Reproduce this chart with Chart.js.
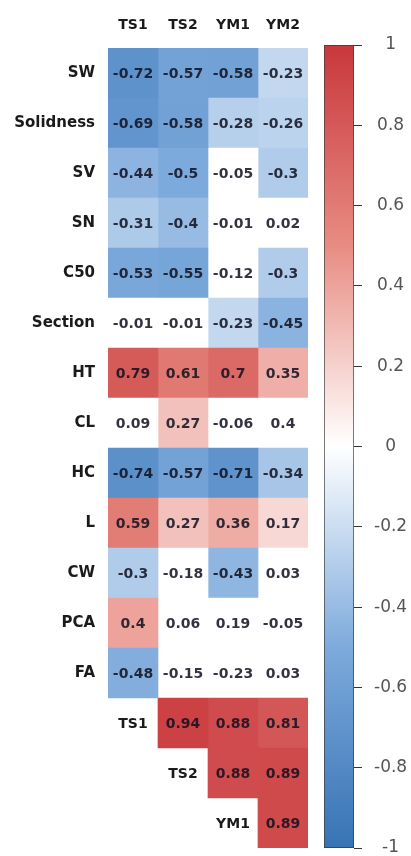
<!DOCTYPE html>
<html>
<head>
<meta charset="utf-8">
<script src="https://cdn.jsdelivr.net/npm/chart.js@4/dist/chart.umd.min.js"></script>
<style>
  html, body { margin: 0; padding: 0; background: #fff; }
  #wrap { position: relative; width: 411px; height: 856px; overflow: hidden; }
  #heat { position: absolute; left: 0; top: 0; }
  #bar { position: absolute; left: 310px; top: 0; }
</style>
</head>
<body>
<div id="wrap">
  <canvas id="heat" width="316" height="856"></canvas>
  <canvas id="bar" width="101" height="856"></canvas>
</div>
<script>
// ---------------- data ----------------
const rowLabels = ['SW', 'Solidness', 'SV', 'SN', 'C50', 'Section', 'HT', 'CL', 'HC', 'L', 'CW', 'PCA', 'FA', 'TS1', 'TS2', 'YM1'];
const colLabels = ['TS1', 'TS2', 'YM1', 'YM2'];

// correlation values per column (null = empty cell in the triangle)
const ts1 = [-0.72, -0.69, -0.44, -0.31, -0.53, -0.01, 0.79, 0.09, -0.74, 0.59, -0.3, 0.4, -0.48, null, null, null];
const ts2 = [-0.57, -0.58, -0.5, -0.4, -0.55, -0.01, 0.61, 0.27, -0.57, 0.27, -0.18, 0.06, -0.15, 0.94, null, null];
const ym1 = [-0.58, -0.28, -0.05, -0.01, -0.12, -0.23, 0.7, -0.06, -0.71, 0.36, -0.43, 0.19, -0.23, 0.88, 0.88, null];
const ym2 = [-0.23, -0.26, -0.3, 0.02, -0.3, -0.45, 0.35, 0.4, -0.34, 0.17, 0.03, -0.05, 0.03, 0.81, 0.89, 0.89];

// 1 = significant (coloured), 0 = left blank
const sigTs1 = [1, 1, 1, 1, 1, 0, 1, 0, 1, 1, 1, 1, 1, 0, 0, 0];
const sigTs2 = [1, 1, 1, 1, 1, 0, 1, 1, 1, 1, 0, 0, 0, 1, 0, 0];
const sigYm1 = [1, 1, 0, 0, 0, 1, 1, 0, 1, 1, 1, 0, 0, 1, 1, 0];
const sigYm2 = [1, 1, 1, 0, 1, 1, 1, 0, 1, 1, 0, 0, 0, 1, 1, 1];

// labels written on the diagonal of the lower block (row index -> column index)
const diagRows = [13, 14, 15];
const diagCols = [0, 1, 2];

// colour bar
const barRange = [-1, 1];
const barStep = 0.2;

// colour ramp anchors (value, rgb)
const rampStops = [
  [-1, [55, 115, 180]],
  [-0.5, [125, 170, 220]],
  [0, [255, 255, 255]],
  [0.5, [232, 140, 130]],
  [1, [200, 55, 60]]
];

// ---------------- helpers ----------------
function rampColor(v) {
  for (let i = 0; i < rampStops.length - 1; i++) {
    const [a, ca] = rampStops[i];
    const [b, cb] = rampStops[i + 1];
    if (v >= a && v <= b) {
      const t = (v - a) / (b - a);
      const c = ca.map((x, k) => Math.round(x + (cb[k] - x) * t));
      return `rgb(${c[0]}, ${c[1]}, ${c[2]})`;
    }
  }
  return '#fff';
}

function fmt(v) {
  return String(Number(v.toFixed(2)));
}

// scale padding for end labels would shrink the grid, drop it
function noEndPadding(s) {
  s.paddingTop = 0;
  s.paddingBottom = 0;
  s.paddingLeft = 0;
  s.paddingRight = 0;
}

Chart.defaults.font.family = "'DejaVu Sans', sans-serif";
Chart.defaults.color = '#222';

const columns = [ts1, ts2, ym1, ym2];
const sigs = [sigTs1, sigTs2, sigYm1, sigYm2];

const datasets = columns.map((vals, c) => ({
  label: colLabels[c],
  data: vals.map(v => (v === null ? null : [c, c + 1])),
  backgroundColor: vals.map((v, i) => (v !== null && sigs[c][i] ? rampColor(v) : '#ffffff')),
  borderWidth: 0,
  barPercentage: 1,
  categoryPercentage: 1,
  grouped: false
}));

// write the numbers and diagonal labels into the cells
const cellText = {
  id: 'cellText',
  afterDatasetsDraw(chart) {
    const { ctx, scales } = chart;
    const xs = scales.x;
    const ys = scales.y;
    ctx.save();
    ctx.textAlign = 'center';
    ctx.textBaseline = 'middle';
    ctx.font = "bold 14px 'DejaVu Sans'";
    ctx.fillStyle = 'rgba(15, 15, 30, 0.85)';
    columns.forEach((vals, c) => {
      vals.forEach((v, i) => {
        if (v === null) return;
        ctx.fillText(fmt(v), xs.getPixelForValue(c + 0.5), ys.getPixelForValue(i) + 1);
      });
    });
    ctx.fillStyle = '#1a1a1a';
    diagRows.forEach((r, k) => {
      ctx.fillText(rowLabels[r], xs.getPixelForValue(diagCols[k] + 0.5), ys.getPixelForValue(r) + 1);
    });
    ctx.restore();
  }
};

new Chart(document.getElementById('heat'), {
  type: 'bar',
  data: { labels: rowLabels, datasets },
  plugins: [cellText],
  options: {
    indexAxis: 'y',
    responsive: false,
    animation: false,
    layout: { padding: { left: 0, right: 8, top: 0, bottom: 8 } },
    plugins: { legend: { display: false }, tooltip: { enabled: false } },
    scales: {
      x: { type: 'linear', min: 0, max: 4, display: false },
      xTop: {
        type: 'category',
        labels: colLabels,
        position: 'top',
        offset: true,
        grid: { display: false, drawTicks: false },
        border: { display: false },
        ticks: { font: { weight: 'bold', size: 14 }, color: '#1a1a1a', padding: 14, maxRotation: 0 },
        afterFit: s => { s.height = 48; noEndPadding(s); }
      },
      y: {
        type: 'category',
        grid: { display: false, drawTicks: false },
        border: { display: false },
        ticks: {
          font: { weight: 'bold', size: 15 },
          color: '#1a1a1a',
          padding: 13,
          callback: (val, i) => (diagRows.includes(i) ? '' : rowLabels[i])
        },
        afterFit: s => { s.width = 108; noEndPadding(s); }
      }
    }
  }
});

// ---------------- colour bar ----------------
function barGradient(context) {
  const chart = context.chart;
  const ys = chart.scales.y;
  if (!ys || !chart.chartArea) return '#fff';
  const g = chart.ctx.createLinearGradient(0, ys.getPixelForValue(barRange[0]), 0, ys.getPixelForValue(barRange[1]));
  rampStops.forEach(([v, c]) => {
    g.addColorStop((v - barRange[0]) / (barRange[1] - barRange[0]), `rgb(${c[0]}, ${c[1]}, ${c[2]})`);
  });
  return g;
}

new Chart(document.getElementById('bar'), {
  type: 'bar',
  data: {
    labels: [''],
    datasets: [{
      data: [barRange],
      backgroundColor: barGradient,
      borderColor: '#3a3a3a',
      borderWidth: 1,
      borderSkipped: false,
      barPercentage: 1,
      categoryPercentage: 1
    }]
  },
  options: {
    responsive: false,
    animation: false,
    layout: { padding: { left: 14, right: 0, top: 45, bottom: 8 } },
    plugins: { legend: { display: false }, tooltip: { enabled: false } },
    scales: {
      x: { display: false },
      y: {
        position: 'right',
        min: barRange[0],
        max: barRange[1],
        grid: { drawOnChartArea: false, drawTicks: true, tickLength: 8, color: '#333' },
        border: { display: false },
        ticks: {
          stepSize: barStep,
          color: '#555',
          font: { size: 17 },
          padding: 12,
          crossAlign: 'center',
          callback: v => String(Number(v.toFixed(1)))
        },
        afterFit: s => { s.width = 57; noEndPadding(s); }
      }
    }
  }
});
</script>
</body>
</html>
